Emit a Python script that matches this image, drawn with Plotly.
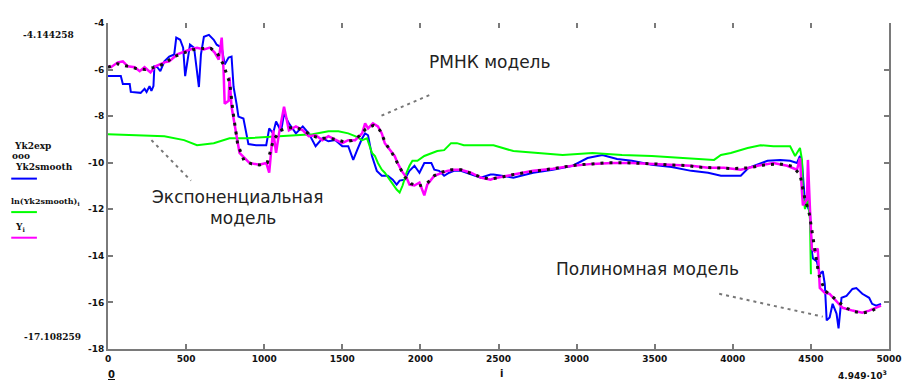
import plotly.graph_objects as go

# ---- data ----
i_smooth = [0, 82, 95, 139, 146, 209, 234, 247, 266, 278, 291, 297, 316, 335, 361, 392, 424, 437, 462, 481,
            494, 513, 525, 551, 570, 582, 595, 614, 646, 677, 696, 728, 747, 772, 791, 804, 823, 835, 867, 899,
            949, 1013, 1032, 1057, 1076, 1108, 1127, 1158, 1203, 1247, 1285, 1329, 1373, 1411, 1456, 1500, 1538,
            1570, 1595, 1627, 1646, 1665, 1690, 1721, 1753, 1791, 1823, 1848, 1867, 1899, 1930, 1962, 1994, 2025,
            2070, 2089, 2120, 2152, 2184, 2215, 2259, 2323, 2386, 2449, 2468, 2595, 2722, 2848, 2975, 3070, 3165,
            3259, 3354, 3481, 3608, 3734, 3842, 3924, 4051, 4101, 4158, 4222, 4304, 4367, 4411, 4430, 4443, 4462,
            4475, 4494, 4506, 4513, 4538, 4557, 4576, 4589, 4601, 4620, 4639, 4664, 4677, 4696, 4728, 4766, 4791,
            4829, 4873, 4892, 4918, 4949]
Yk2smooth = [-6.28, -6.28, -6.62, -6.62, -6.96, -7.0, -6.83, -6.96, -6.71, -6.92, -6.71, -5.86, -5.9, -6.07,
             -5.65, -5.44, -5.35, -4.63, -4.72, -5.06, -6.28, -5.35, -4.93, -5.06, -6.07, -6.75, -5.35, -4.59,
             -4.51, -4.72, -4.93, -5.06, -5.78, -5.48, -5.44, -6.75, -7.47, -8.02, -8.1, -9.2, -9.25, -9.25,
             -8.53, -8.74, -8.23, -8.65, -7.89, -8.31, -8.74, -8.44, -8.74, -9.29, -8.95, -9.08, -9.03, -9.29,
             -9.29, -9.88, -9.46, -8.95, -8.74, -8.82, -9.71, -10.35, -10.56, -10.56, -10.73, -10.94, -10.77,
             -10.73, -10.35, -10.13, -10.43, -10.01, -10.01, -10.3, -10.35, -10.56, -10.43, -10.35, -10.35,
             -10.51, -10.64, -10.51, -10.51, -10.64, -10.43, -10.3, -10.13, -9.8, -9.67, -9.84, -9.92, -10.09,
             -10.18, -10.35, -10.43, -10.56, -10.56, -10.22, -10.09, -9.92, -9.88, -9.92, -10.01, -9.71, -10.01,
             -11.7, -11.83, -12.12, -13.81, -14.11, -14.24, -14.79, -14.66, -15.21, -16.77, -16.65, -16.06,
             -16.48, -17.11, -15.8, -15.72, -15.42, -15.38, -15.63, -15.8, -16.06, -16.14, -16.06]

i_exp_model = [0, 253, 361, 487, 570, 677, 778, 886, 994, 1120, 1203, 1310, 1411, 1475, 1538, 1582, 1627, 1658,
               1690, 1709, 1728, 1753, 1772, 1804, 1823, 1848, 1867, 1886, 1911, 1930, 1949, 1981, 2025, 2070,
               2108, 2152, 2196, 2234, 2278, 2361, 2468, 2595, 2753, 2911, 3101, 3291, 3481, 3671, 3734, 3880,
               3924, 3987, 4095, 4177, 4260, 4367, 4399, 4430, 4443, 4449, 4462, 4481, 4494, 4500]
ln_Yk2smooth = [-8.78, -8.82, -8.86, -9.03, -9.25, -9.16, -8.95, -8.95, -8.91, -8.86, -8.82, -8.78, -8.65,
                -8.65, -8.74, -8.86, -9.03, -8.95, -9.58, -9.71, -10.01, -10.3, -10.43, -10.73, -10.94, -11.15,
                -11.28, -10.98, -10.43, -10.13, -9.92, -9.92, -9.71, -9.58, -9.5, -9.46, -9.16, -9.16, -9.25,
                -9.25, -9.25, -9.5, -9.58, -9.67, -9.58, -9.67, -9.71, -9.8, -9.8, -9.88, -9.67, -9.58, -9.37,
                -9.25, -9.29, -9.29, -9.71, -9.37, -9.88, -11.28, -11.99, -11.57, -12.42, -14.79]

i_Y = [0, 19, 63, 95, 127, 171, 203, 234, 272, 304, 361, 392, 443, 487, 525, 570, 614, 652, 683, 709, 728, 740,
       747, 772, 778, 791, 823, 842, 905, 968, 1013, 1032, 1057, 1076, 1095, 1127, 1158, 1203, 1247, 1285, 1329,
       1373, 1411, 1456, 1500, 1538, 1582, 1627, 1646, 1665, 1696, 1728, 1753, 1772, 1804, 1835, 1854, 1880,
       1911, 1930, 1962, 1994, 2025, 2044, 2089, 2133, 2171, 2215, 2259, 2323, 2386, 2449, 2468, 2595, 2722,
       2848, 2975, 3101, 3228, 3354, 3481, 3608, 3734, 3842, 3943, 4051, 4158, 4260, 4348, 4411, 4430, 4443,
       4449, 4475, 4481, 4494, 4506, 4525, 4544, 4557, 4589, 4620, 4664, 4703, 4766, 4829, 4873, 4918, 4949]
Y = [-5.86, -5.9, -5.69, -5.65, -5.86, -5.9, -6.07, -5.9, -6.12, -5.86, -5.69, -5.65, -5.35, -5.23, -5.14,
     -5.06, -5.14, -5.06, -5.27, -5.57, -4.63, -6.07, -7.47, -7.34, -6.33, -7.6, -8.74, -9.58, -10.01, -10.09,
     -10.01, -10.43, -8.61, -9.58, -8.74, -7.6, -8.61, -8.44, -8.61, -8.86, -8.82, -9.03, -8.86, -9.03, -9.16,
     -9.03, -9.03, -8.74, -8.31, -8.53, -8.31, -8.44, -8.74, -9.16, -9.46, -9.71, -10.01, -10.35, -10.64,
     -10.94, -10.98, -10.85, -11.4, -10.94, -10.56, -10.43, -10.35, -10.3, -10.3, -10.43, -10.64, -10.73,
     -10.68, -10.51, -10.35, -10.26, -10.13, -10.05, -10.01, -10.01, -10.05, -10.09, -10.13, -10.22, -10.22,
     -10.3, -10.13, -10.01, -10.13, -10.3, -9.8, -11.28, -11.83, -11.57, -9.88, -11.99, -13.69, -13.81,
     -13.69, -15.38, -15.59, -15.63, -15.93, -16.23, -16.35, -16.44, -16.35, -16.23, -16.14]

i_exp = [0, 60, 120, 180, 240, 300, 360, 420, 480, 540, 600, 660, 700, 740, 780, 800, 830, 870, 920, 970, 1020,
         1060, 1110, 1160, 1210, 1260, 1310, 1360, 1410, 1460, 1510, 1560, 1610, 1650, 1700, 1740, 1780, 1820,
         1860, 1900, 1940, 1990, 2040, 2090, 2140, 2200, 2260, 2320, 2380, 2440, 2500, 2600, 2700, 2800, 2900,
         3000, 3100, 3200, 3300, 3400, 3500, 3600, 3700, 3800, 3900, 4000, 4100, 4200, 4300, 4380, 4430, 4460,
         4490, 4520, 4550, 4590, 4630, 4680, 4730, 4780, 4830, 4880, 4930]
Yk2exp = [-5.9, -5.75, -5.85, -5.95, -6.0, -5.9, -5.75, -5.45, -5.3, -5.15, -5.1, -5.1, -5.3, -5.8, -6.6, -7.8,
          -9.2, -9.9, -10.05, -10.1, -10.0, -9.0, -8.6, -8.5, -8.5, -8.65, -8.85, -8.95, -8.95, -9.0, -9.1, -9.05,
          -8.85, -8.55, -8.4, -8.6, -9.2, -9.6, -10.1, -10.6, -10.9, -11.0, -10.9, -10.55, -10.4, -10.3, -10.3,
          -10.45, -10.6, -10.7, -10.65, -10.5, -10.4, -10.3, -10.2, -10.1, -10.05, -10.0, -10.0, -10.02, -10.05,
          -10.1, -10.12, -10.2, -10.22, -10.25, -10.22, -10.1, -10.05, -10.15, -10.5, -11.5, -12.2, -13.6, -14.8,
          -15.5, -15.7, -16.0, -16.25, -16.4, -16.45, -16.4, -16.2]

x_ticks = [0, 500, 1000, 1500, 2000, 2500, 3000, 3500, 4000, 4500, 5000]
y_ticks = [-4, -6, -8, -10, -12, -14, -16, -18]
y_tick_labels = ["-4", "-6", "-8", "-10", "-12", "-14", "-16", "-18"]

# ---- figure ----
fig = go.Figure()
fig.add_trace(go.Scatter(x=i_smooth, y=Yk2smooth, mode="lines", line=dict(color="#0000ff", width=2)))
fig.add_trace(go.Scatter(x=i_exp_model, y=ln_Yk2smooth, mode="lines", line=dict(color="#00ff00", width=2)))
fig.add_trace(go.Scatter(x=i_Y, y=Y, mode="lines", line=dict(color="#ff00ff", width=2.5)))
fig.add_trace(go.Scatter(x=i_exp, y=Yk2exp, mode="lines",
                         line=dict(color="#111111", width=3, dash="3px,6px")))
fig.add_trace(go.Scatter(x=[0, 5000], y=[-18, -18], xaxis="x2", mode="lines",
                         line=dict(width=0), hoverinfo="skip"))

axis_col = "#7a7a7a"
tick_font = dict(size=9, family="DejaVu Sans", color="#111", weight="bold")
# page body has an 8px margin: the figure is sized/offset to compensate
fig.update_layout(
    width=904, height=375, showlegend=False,
    margin=dict(l=100, r=13, t=10, b=34),
    paper_bgcolor="white", plot_bgcolor="white",
    font=dict(family="DejaVu Sans", color="#111111"),
    xaxis=dict(range=[0, 5000], tickvals=x_ticks, ticks="inside", ticklen=5, tickwidth=2,
               tickcolor=axis_col, showline=True, linecolor=axis_col, linewidth=2,
               showgrid=False, zeroline=False, tickfont=tick_font),
    xaxis2=dict(range=[0, 5000], overlaying="x", side="top", tickvals=x_ticks, ticks="inside",
                ticklen=5, tickwidth=2, tickcolor=axis_col, showline=False, showticklabels=False,
                showgrid=False, zeroline=False),
    yaxis=dict(range=[-18, -4], tickvals=y_ticks, ticktext=y_tick_labels, ticks="inside", ticklen=5,
               tickwidth=2, tickcolor=axis_col, showline=True, linecolor=axis_col, linewidth=2,
               mirror="ticks", showgrid=False, zeroline=False, tickfont=tick_font),
)

def pxx(px):
    return (px - 108) / 791.0

def pxy(py):
    return (349 - py) / 331.0

small = dict(family="DejaVu Serif", size=9, color="#111")
smaller = dict(family="DejaVu Serif", size=8, color="#111")
big = dict(family="DejaVu Sans", size=17, color="#222")
anns = [
    ("<b>-4.144258</b>", 48, 30, "center", small),
    ("<b>-17.108259</b>", 52, 337, "center", small),
    ("<b><u>0</u></b>", 112, 375, "center", dict(family="DejaVu Sans", size=10, color="#111")),
    ("<b>i</b>", 507, 374, "center", dict(family="DejaVu Sans", size=10, color="#111")),
    ("<b>4.949·10<sup>3</sup></b>", 872, 375, "center", dict(family="DejaVu Sans", size=9, color="#111")),
    ("<b>Yk2exp</b>", 11, 143, "left", small),
    ("<b>ooo</b>", 9, 153, "left", small),
    ("<b>Yk2smooth</b>", 12, 164, "left", small),
    ("<b>ln(Yk2smooth)<sub>i</sub></b>", 8, 199, "left", smaller),
    ("<b>Y<sub>i</sub></b>", 12, 226, "left", small),
    ("РМНК модель", 495, 58, "center", big),
    ("Экспоненциальная", 239, 195, "center", big),
    ("модель", 245, 216, "center", big),
    ("Полиномная модель", 654, 268, "center", big),
]
for text, px, py, anchor, fnt in anns:
    fig.add_annotation(text=text, x=pxx(px), y=pxy(py), xref="paper", yref="paper",
                       xanchor=anchor, yanchor="middle", showarrow=False, font=fnt)

# legend line samples
for col, py in [("#0000ff", 176), ("#00ff00", 210), ("#ff00ff", 236)]:
    fig.add_shape(type="line", xref="paper", yref="paper", x0=pxx(10), x1=pxx(36), y0=pxy(py), y1=pxy(py),
                  line=dict(color=col, width=2))

# leader lines (dashed)
for x0, y0, x1, y1 in [(1751, -7.98, 2073, -7.05), (278, -9.03, 531, -10.77), (3913, -15.63, 4576, -16.61)]:
    fig.add_shape(type="line", xref="x", yref="y", x0=x0, y0=y0, x1=x1, y1=y1,
                  line=dict(color="#777", width=2, dash="3px,4px"))

fig.write_html("out.html")
